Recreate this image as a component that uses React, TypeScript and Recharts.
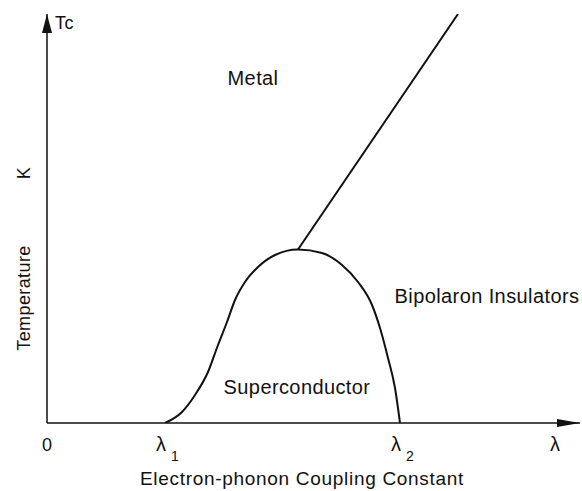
import { LineChart, Line, XAxis, YAxis, ReferenceDot, ReferenceLine } from "recharts";

// dome of the superconducting phase (lambda, Tc)
const domeLambda = [1.18, 1.35, 1.48, 1.61, 1.71, 1.8, 1.88, 1.98, 2.11, 2.28, 2.51, 2.75, 2.95, 3.11, 3.25, 3.33, 3.41, 3.48, 3.53];
const domeTc = [0, 0.11, 0.28, 0.51, 0.78, 1.01, 1.23, 1.41, 1.56, 1.68, 1.735, 1.7, 1.58, 1.41, 1.18, 0.95, 0.65, 0.35, 0];

// metal / bipolaron boundary
const boundaryLambda = [2.51, 4.11];
const boundaryTc = [1.735, 4.09];

const xTicks = [0, 1.18, 3.53, 5.08];
const xTickLabels = ["0", "λ1", "λ2", "λ"];

const regionLabels = [
  { x: 2.06, y: 3.45, text: "Metal" },
  { x: 2.5, y: 0.36, text: "Superconductor" },
  { x: 4.4, y: 1.27, text: "Bipolaron Insulators" },
];

const dome = domeLambda.map((x, i) => ({ x, y: domeTc[i] }));
const boundary = boundaryLambda.map((x, i) => ({ x, y: boundaryTc[i] }));

const FONT = "'Liberation Sans', Arial, sans-serif";
const INK = "#111";

function XTick(props: any) {
  const { x, y, payload } = props;
  const i = xTicks.indexOf(payload.value);
  const label = xTickLabels[i] ?? "";
  if (label.length === 2) {
    return (
      <g>
        <text x={x - 4} y={y + 20} textAnchor="middle" fontSize={20} fill={INK} fontFamily={FONT}>
          {label[0]}
        </text>
        <text x={x + 10} y={y + 30} textAnchor="middle" fontSize={14} fill={INK} fontFamily={FONT}>
          {label[1]}
        </text>
      </g>
    );
  }
  return (
    <text x={x} y={y + 20} textAnchor="middle" fontSize={label === "λ" ? 20 : 18} fill={INK} fontFamily={FONT}>
      {label}
    </text>
  );
}

const arrowUp = (p: any) => (
  <path d={`M${p.cx},${p.cy} L${p.cx - 5},${p.cy + 19} L${p.cx + 5},${p.cy + 19} Z`} fill={INK} />
);
const arrowRight = (p: any) => (
  <path d={`M${p.cx},${p.cy} L${p.cx - 23},${p.cy - 4} L${p.cx - 23},${p.cy + 4} Z`} fill={INK} />
);

function textShape(text: string, size: number, rotate = false, anchor: "middle" | "start" = "middle", spacing = 0.4) {
  return (p: any) => (
    <text
      x={p.cx}
      y={p.cy}
      textAnchor={anchor}
      dominantBaseline="central"
      fontSize={size}
      letterSpacing={spacing}
      fill={INK}
      fontFamily={FONT}
      transform={rotate ? `rotate(-90 ${p.cx} ${p.cy})` : undefined}
    >
      {text}
    </text>
  );
}

export default function App() {
  return (
    <div style={{ position: "absolute", left: 0, top: 0, width: 582, height: 491, background: "#fff" }}>
      <LineChart width={582} height={491} margin={{ top: 14, right: 2, bottom: 0, left: 47 }}>
        <XAxis
          type="number"
          dataKey="x"
          domain={[0, 5.33]}
          ticks={xTicks}
          tick={<XTick />}
          tickLine={false}
          axisLine={{ stroke: INK, strokeWidth: 1.5 }}
          allowDataOverflow
          height={68}
        />
        <YAxis type="number" dataKey="y" domain={[0, 4.09]} width={0} hide allowDataOverflow />
        <ReferenceLine x={0} stroke={INK} strokeWidth={1.5} ifOverflow="visible" />
        <Line data={dome} dataKey="y" type="monotone" stroke={INK} strokeWidth={2} dot={false} isAnimationActive={false} />
        <Line data={boundary} dataKey="y" type="linear" stroke={INK} strokeWidth={2} dot={false} isAnimationActive={false} />
        <ReferenceDot x={0} y={4.09} r={0} ifOverflow="visible" shape={arrowUp} />
        <ReferenceDot x={5.33} y={0} r={0} ifOverflow="visible" shape={arrowRight} />
        {regionLabels.map((l) => (
          <ReferenceDot key={l.text} x={l.x} y={l.y} r={0} ifOverflow="visible" shape={textShape(l.text, 20)} />
        ))}
        <ReferenceDot x={0.08} y={4.0} r={0} ifOverflow="visible" shape={textShape("Tc", 18, false, "start")} />
        <ReferenceDot x={-0.23} y={2.5} r={0} ifOverflow="visible" shape={textShape("K", 18, true)} />
        <ReferenceDot x={-0.23} y={1.25} r={0} ifOverflow="visible" shape={textShape("Temperature", 18, true)} />
        <ReferenceDot x={2.55} y={-0.55} r={0} ifOverflow="visible" shape={textShape("Electron-phonon Coupling Constant", 19, false, "middle", 0.7)} />
      </LineChart>
    </div>
  );
}
